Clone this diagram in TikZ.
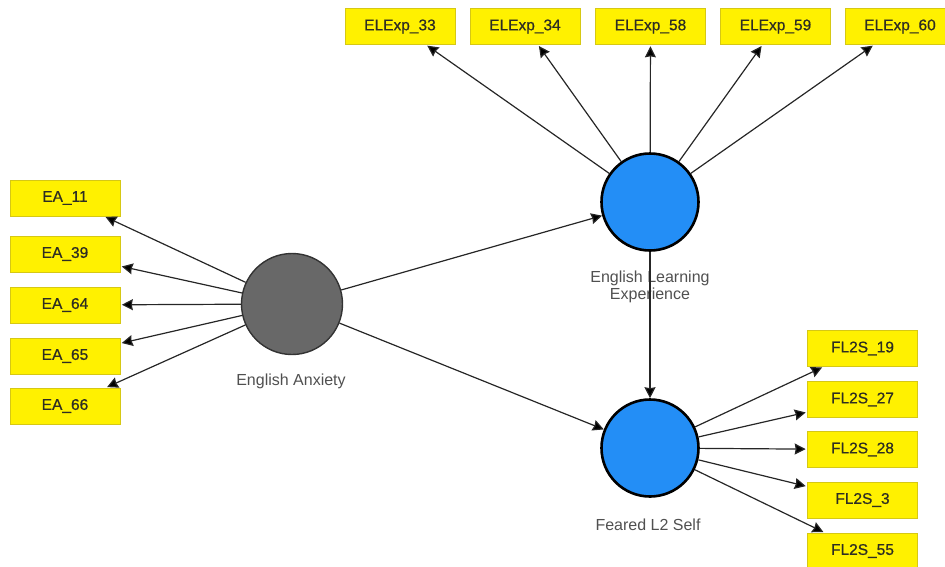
\documentclass[tikz,border=0pt]{standalone}
\usepackage{fontspec}
\setsansfont{Liberation Sans}
\newfontfamily\itemfont{Liberation Sans}[FakeBold=0.6]
\usetikzlibrary{arrows.meta}
\definecolor{itemyellow}{RGB}{255,241,0}
\definecolor{itemedge}{RGB}{214,200,20}
\definecolor{latentblue}{RGB}{35,142,246}
\definecolor{latentgrey}{RGB}{104,104,104}
\definecolor{labelgrey}{RGB}{80,80,80}
\definecolor{itemtext}{RGB}{45,45,35}
\begin{document}
\begin{tikzpicture}[x=1pt,y=-1pt,
  item node/.style={rectangle,draw=itemedge,line width=0.6pt,fill=itemyellow,minimum width=110pt,minimum height=36pt,
    text=itemtext,font=\itemfont\fontsize{15.5}{18}\selectfont},
  latent node/.style={circle,draw=black,line width=2.6pt,fill=latentblue,minimum size=97pt,inner sep=0pt},
  name node/.style={text=labelgrey,font=\sffamily\fontsize{16}{19}\selectfont,align=center},
  link/.style={draw=black!85,line width=1.2pt,-{Stealth[length=11pt,width=11pt,inset=1pt]}}]
  \useasboundingbox (0,0) rectangle (945,566);

  % latent variables
  \node[latent node,draw=black!80,line width=1.4pt,fill=latentgrey,minimum size=101pt] (ea) at (292,304){};
  \node[latent node] (ele) at (650,202){};
  \node[latent node] (fls) at (650,448){};

  \node[name node] (eaname) at (291,381){English Anxiety};
  \node[name node] (elename) at (650,287){English Learning\\[-2pt]Experience};
  \node[name node] (flsname) at (648,525){Feared L2 Self};

  % English Anxiety items
  \node[item node] (ea11) at (65,198){EA\_11};
  \node[item node] (ea39) at (65,254){EA\_39};
  \node[item node] (ea64) at (65,305){EA\_64};
  \node[item node] (ea65) at (65,356){EA\_65};
  \node[item node] (ea66) at (65,406){EA\_66};

  % English Learning Experience items
  \node[item node] (ele33) at (400,26.5){ELExp\_33};
  \node[item node] (ele34) at (525,26.5){ELExp\_34};
  \node[item node] (ele58) at (650.5,26.5){ELExp\_58};
  \node[item node] (ele59) at (775.5,26.5){ELExp\_59};
  \node[item node] (ele60) at (900,26.5){ELExp\_60};

  % Feared L2 Self items
  \node[item node] (fls19) at (862.5,348.5){FL2S\_19};
  \node[item node] (fls27) at (862.5,399.5){FL2S\_27};
  \node[item node] (fls28) at (862.5,449.5){FL2S\_28};
  \node[item node] (fls3) at (862.5,500){FL2S\_3};
  \node[item node] (fls55) at (862.5,551){FL2S\_55};

  \path[link,shorten >=1.5pt]
   (ea) edge (ea11)
   (ea) edge (ea39)
   (ea) edge (ea64)
   (ea) edge (ea65)
   (ea) edge (ea66)
   (ele) edge (ele33)
   (ele) edge (ele34)
   (ele) edge (ele58)
   (ele) edge (ele59)
   (ele) edge (ele60)
   (fls) edge (fls19)
   (fls) edge (fls27)
   (fls) edge (fls28)
   (fls) edge (fls3)
   (fls) edge (fls55);

  \path[link]
   (ea) edge (ele)
   (ea) edge (fls)
   (ele) edge (fls);
\end{tikzpicture}
\end{document}
